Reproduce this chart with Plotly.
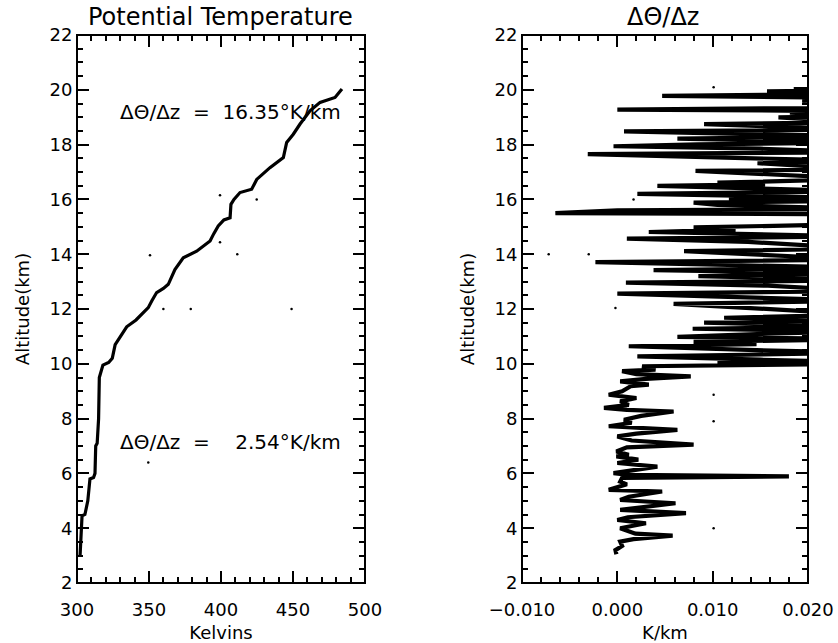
import plotly.graph_objects as go

# ---------------- data ----------------
# Left panel: potential temperature profile
theta_alt = [2.96, 3.8, 4.45, 4.5, 5.0, 5.8, 5.85, 6.0, 7.0, 7.1, 8.0, 9.5, 9.95, 10.05,
             10.2, 10.7, 11.0, 11.35, 11.6, 12.05, 12.3, 12.6, 12.75, 12.9, 13.44, 13.87,
             14.11, 14.48, 14.75, 15.03, 15.25, 15.33, 15.82, 16.0, 16.25, 16.37, 16.73,
             17.16, 17.53, 18.08, 18.38, 18.75, 19.23, 19.54, 19.72, 19.96, 20.03]
theta_K = [302.1, 302.8, 303.5, 305.5, 307.5, 309.0, 311.5, 312.5, 313.0, 314.0, 315.0,
           315.5, 318.0, 322.0, 324.5, 326.5, 330.0, 334.5, 341.0, 349.5, 352.0, 355.3,
           360.0, 363.4, 368.0, 373.8, 383.1, 392.4, 395.0, 398.1, 402.0, 406.3, 406.9,
           409.0, 413.2, 421.3, 424.8, 434.0, 443.3, 445.6, 450.2, 454.9, 461.8, 468.8,
           479.2, 482.6, 484.0]
# stray points in left panel
dots_left_K = [399.3, 424.8, 399.3, 350.7, 411.3, 360.0, 379.0, 449.0, 349.5]
dots_left_alt = [16.15, 16.0, 14.44, 13.96, 14.0, 12.0, 12.0, 12.0, 6.4]

# Right panel: d(theta)/dz profile
grad_alt = [3.05, 3.2, 3.35, 3.51, 3.6, 3.73, 3.8, 4.0, 4.18, 4.3, 4.4, 4.55, 4.67, 4.91,
            5.03, 5.15, 5.34, 5.4, 5.6, 5.7, 5.84, 5.89, 5.95, 6.01, 6.25, 6.38, 6.5,
            6.62, 6.68, 6.8, 6.95, 7.05, 7.2, 7.35, 7.45, 7.59, 7.72, 7.85, 7.96, 8.1,
            8.26, 8.32, 8.39, 8.5, 8.63, 8.75, 8.87, 9.0, 9.18, 9.24, 9.36, 9.45, 9.54,
            9.62, 9.73, 9.79, 9.91, 9.97, 10.0, 10.03, 10.06, 10.15, 10.27, 10.34, 10.4,
            10.5, 10.64, 10.72, 10.8, 10.9, 10.98, 11.1, 11.18, 11.28, 11.36, 11.5, 11.58,
            11.68, 11.8, 12.19, 12.3, 12.45, 12.56, 12.65, 12.85, 12.96, 13.05, 13.2,
            13.3, 13.42, 13.5, 13.71, 13.8, 14.11, 14.2, 14.45, 14.57, 14.65, 14.81,
            14.9, 14.98, 15.1, 15.45, 15.5, 15.6, 15.65, 15.8, 15.88, 15.95, 16.0, 16.05,
            16.2, 16.3, 16.49, 16.55, 16.61, 16.75, 17.04, 17.1, 17.32, 17.4, 17.65,
            17.72, 17.85, 17.94, 18.01, 18.08, 18.22, 18.3, 18.48, 18.55, 18.75, 18.82,
            18.99, 19.05, 19.17, 19.22, 19.28, 19.35, 19.6, 19.7, 19.78, 19.85, 19.94,
            20.0, 20.03]
grad_val = [-0.0001, -0.0002, 0.0005, 0.0003, 0.0017, 0.0058, 0.0019, 0.0003, 0.0030,
            0.0000, 0.0011, 0.0072, 0.0003, 0.0061, 0.0003, 0.0012, 0.0047, -0.0009,
            0.0010, 0.0003, 0.0005, 0.0180, 0.0010, -0.0004, 0.0042, 0.0000, 0.0022,
            -0.0001, 0.0012, -0.0001, 0.0010, 0.0080, 0.0015, 0.0000, 0.0020, 0.0063,
            -0.0009, 0.0015, 0.0007, 0.0025, 0.0059, 0.0010, -0.0014, 0.0012, 0.0003,
            0.0020, -0.0009, 0.0005, 0.0014, 0.0033, 0.0003, 0.0030, 0.0077, 0.0020,
            0.0005, 0.0040, 0.0026, 0.0160, 0.0260, 0.0105, 0.0260, 0.0150, 0.0021,
            0.0152, 0.0260, 0.0146, 0.0012, 0.0146, 0.0080, 0.0260, 0.0063, 0.0158,
            0.0260, 0.0079, 0.0260, 0.0091, 0.0260, 0.0112, 0.0260, 0.0059, 0.0260,
            0.0107, 0.0000, 0.0260, 0.0158, 0.0009, 0.0260, 0.0085, 0.0260, 0.0038,
            0.0260, -0.0023, 0.0260, 0.0070, 0.0260, 0.0137, 0.0010, 0.0260, 0.0033,
            0.0124, 0.0080, 0.0260, 0.0260, -0.0065, 0.0000, 0.0260, 0.0105, 0.0080,
            0.0260, 0.0117, 0.0260, 0.0021, 0.0260, 0.0042, 0.0155, 0.0105, 0.0260,
            0.0082, 0.0260, 0.0147, 0.0260, -0.0031, 0.0260, 0.0150, -0.0004, 0.0084,
            0.0260, 0.0063, 0.0260, 0.0007, 0.0260, 0.0091, 0.0260, 0.0169, 0.0260,
            0.0181, 0.0260, 0.0000, 0.0260, 0.0194, 0.0260, 0.0047, 0.0260, 0.0157,
            0.0260, 0.0185]
dots_right_val = [0.0101, 0.0017, -0.0072, -0.0030, -0.0002, 0.0101, 0.0101, 0.0101]
dots_right_alt = [20.09, 16.0, 14.0, 14.0, 12.04, 8.87, 7.9, 4.0]

x1_ticks = [300, 350, 400, 450, 500]
x2_ticks = [-0.01, 0.0, 0.01, 0.02]
x2_ticktext = ["\u22120.010", "0.000", "0.010", "0.020"]

label1 = "ΔΘ/Δz\u00a0\u00a0=\u00a0\u00a016.35°K/km"
label2 = "ΔΘ/Δz\u00a0\u00a0=\u00a0\u00a0\u00a0\u00a02.54°K/km"

# ---------------- figure ----------------
W, H = 838, 643
FONT = "DejaVu Sans"


def px_x(p):
    return p / W


def px_y(p):
    return 1 - p / H


fig = go.Figure()
fig.add_trace(go.Scatter(x=theta_K, y=theta_alt, mode="lines",
                         line=dict(color="black", width=3.2), xaxis="x", yaxis="y",
                         showlegend=False))
fig.add_trace(go.Scatter(x=dots_left_K, y=dots_left_alt, mode="markers",
                         marker=dict(color="black", size=2.5), xaxis="x", yaxis="y",
                         showlegend=False))
fig.add_trace(go.Scatter(x=grad_val, y=grad_alt, mode="lines",
                         line=dict(color="black", width=4.2), xaxis="x2", yaxis="y2",
                         showlegend=False))
fig.add_trace(go.Scatter(x=dots_right_val, y=dots_right_alt, mode="markers",
                         marker=dict(color="black", size=2.5), xaxis="x2", yaxis="y2",
                         showlegend=False))

tf = dict(family=FONT, size=18, color="black")


def ttl(s):
    return dict(text=s, font=dict(family=FONT, size=18, color="black"))


def axis(**kw):
    d = dict(showline=True, linecolor="black", linewidth=1, mirror="allticks",
             ticks="inside", ticklen=12, tickwidth=1.5, tickcolor="black",
             showgrid=False, zeroline=False, automargin=False, tickfont=tf)
    d.update(kw)
    return d


def minor(dt):
    return dict(dtick=dt, ticks="inside", ticklen=6, tickwidth=1.5, tickcolor="black")


ydom = [px_y(583), px_y(35)]
fig.update_layout(
    width=W, height=H, margin=dict(l=0, r=0, t=0, b=0),
    paper_bgcolor="white", plot_bgcolor="white",
    font=dict(family=FONT, size=18, color="black"),
    xaxis=axis(domain=[px_x(77), px_x(365)], range=[300, 500], tickvals=x1_ticks,
               minor=minor(10), title=ttl("Kelvins"), ticklabelstandoff=10, anchor="y"),
    yaxis=axis(domain=ydom, range=[2, 22], tick0=2, dtick=2, minor=minor(0.5),
               title=ttl("Altitude(km)"), anchor="x"),
    xaxis2=axis(domain=[px_x(522), px_x(808)], range=[-0.01, 0.02], tickvals=x2_ticks,
                ticktext=x2_ticktext, minor=minor(0.002), title=ttl("K/km"),
                ticklabelstandoff=10, anchor="y2"),
    yaxis2=axis(domain=ydom, range=[2, 22], tick0=2, dtick=2, minor=minor(0.5),
                title=ttl("Altitude(km)"), anchor="x2"),
)

# heavier frame around each panel
for xr, yr in (("x domain", "y domain"), ("x2 domain", "y2 domain")):
    fig.add_shape(type="rect", xref=xr, yref=yr, x0=0, x1=1, y0=0, y1=1,
                  line=dict(color="black", width=2), fillcolor="rgba(0,0,0,0)",
                  layer="above")

fig.add_annotation(text="Potential Temperature", x=px_x(220), y=px_y(17), xref="paper",
                   yref="paper", showarrow=False, font=dict(family=FONT, size=24, color="black"),
                   xanchor="center", yanchor="middle")
fig.add_annotation(text="ΔΘ/Δz", x=px_x(663), y=px_y(17), xref="paper", yref="paper",
                   showarrow=False, font=dict(family=FONT, size=24, color="black"),
                   xanchor="center", yanchor="middle")
fig.add_annotation(text=label1, x=328.5, y=19.18, xref="x", yref="y", showarrow=False,
                   font=dict(family=FONT, size=20, color="black"), xanchor="left",
                   yanchor="middle")
fig.add_annotation(text=label2, x=328.5, y=7.16, xref="x", yref="y", showarrow=False,
                   font=dict(family=FONT, size=20, color="black"), xanchor="left",
                   yanchor="middle")

fig.write_html("out.html")
